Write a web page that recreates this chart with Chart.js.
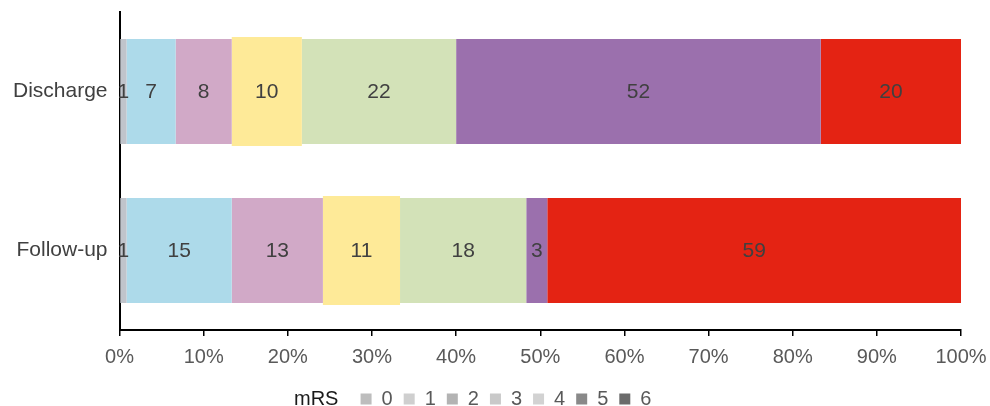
<!DOCTYPE html>
<html>
<head>
<meta charset="utf-8">
<script src="https://cdn.jsdelivr.net/npm/chart.js@4/dist/chart.umd.min.js"></script>
<style>
  html, body { margin: 0; padding: 0; background: #fff; }
  #wrap { width: 990px; height: 406px; position: relative; }
</style>
</head>
<body>
<div id="wrap"><canvas id="mrsChart"></canvas></div>
<script>
const categories = ["Discharge", "Follow-up"];
const mrsScores = ["0", "1", "2", "3", "4", "5", "6"];
// patient counts per mRS score, [discharge, follow-up]
const mrs0 = [1, 1];
const mrs1 = [7, 15];
const mrs2 = [8, 13];
const mrs3 = [10, 11];
const mrs4 = [22, 18];
const mrs5 = [52, 3];
const mrs6 = [20, 59];
const xTicks = ["0%", "10%", "20%", "30%", "40%", "50%", "60%", "70%", "80%", "90%", "100%"];

const counts = [mrs0, mrs1, mrs2, mrs3, mrs4, mrs5, mrs6];
const barColors = ["#c0c4cb", "#addaea", "#d1a9c7", "#feea98", "#d3e2b8", "#9b70ad", "#e42313"];
const legendGrays = ["#bdbdbd", "#cfcfcf", "#b3b3b3", "#c9c9c9", "#d2d2d2", "#898989", "#6b6b6b"];
const FONT = "'Liberation Sans', Arial, sans-serif";

const totals = categories.map((c, i) => counts.reduce((s, arr) => s + arr[i], 0));

const datasets = counts.map((arr, k) => ({
  label: mrsScores[k],
  data: arr.map((v, i) => v / totals[i] * 100),
  backgroundColor: barColors[k],
  borderWidth: 0,
  barPercentage: k === 3 ? 0.685 : 0.66,
  categoryPercentage: 1
}));

// draw the raw count in the middle of every segment
const countLabels = {
  id: "countLabels",
  afterDatasetsDraw(chart) {
    const ctx = chart.ctx;
    ctx.save();
    ctx.font = "21px " + FONT;
    ctx.fillStyle = "#404040";
    ctx.textAlign = "center";
    ctx.textBaseline = "middle";
    chart.data.datasets.forEach((ds, k) => {
      chart.getDatasetMeta(k).data.forEach((bar, i) => {
        ctx.fillText(String(counts[k][i]), (bar.x + bar.base) / 2, bar.y + 1);
      });
    });
    ctx.restore();
  }
};

const blank = { fillStyle: "rgba(0,0,0,0)", strokeStyle: "rgba(0,0,0,0)", lineWidth: 0 };

// labels may hang over the plot edges like in the original
function noEdgePadding(scale) {
  scale.paddingLeft = 0;
  scale.paddingRight = 0;
  scale.paddingTop = 0;
  scale.paddingBottom = 0;
}

let mrsChart = new Chart(document.getElementById("mrsChart").getContext("2d"), {
  type: "bar",
  data: { labels: categories, datasets: datasets },
  plugins: [countLabels],
  options: {
    indexAxis: "y",
    responsive: true,
    maintainAspectRatio: false,
    animation: false,
    layout: { padding: { top: 12, left: 1, right: 29, bottom: -13 } },
    plugins: {
      tooltip: { enabled: false },
      legend: {
        position: "bottom",
        labels: {
          font: { size: 20, family: FONT },
          color: "#595959",
          boxWidth: 11,
          boxHeight: 11,
          padding: 11,
          generateLabels(chart) {
            const items = [Object.assign({ text: "mRS  ", fontColor: "#1a1a1a", datasetIndex: -1 }, blank)];
            mrsScores.forEach((s, k) => items.push({
              text: s,
              fillStyle: legendGrays[k],
              strokeStyle: legendGrays[k],
              lineWidth: 0,
              fontColor: "#595959",
              datasetIndex: k
            }));
            items.push(Object.assign({ text: " ", datasetIndex: -2 }, blank));
            return items;
          }
        }
      }
    },
    scales: {
      x: {
        stacked: true,
        min: 0,
        max: 100,
        afterFit: noEdgePadding,
        ticks: {
          stepSize: 10,
          padding: 9,
          color: "#595959",
          font: { size: 20, family: FONT },
          callback: (v, i) => xTicks[i]
        },
        grid: { drawOnChartArea: false, tickLength: 6, color: "#000", lineWidth: 1.5 },
        border: { color: "#000", width: 2 }
      },
      y: {
        stacked: true,
        afterFit: noEdgePadding,
        ticks: {
          padding: 12,
          color: "#404040",
          font: { size: 21, family: FONT }
        },
        grid: { display: false, drawTicks: false },
        border: { color: "#000", width: 2 }
      }
    }
  }
});
</script>
</body>
</html>
